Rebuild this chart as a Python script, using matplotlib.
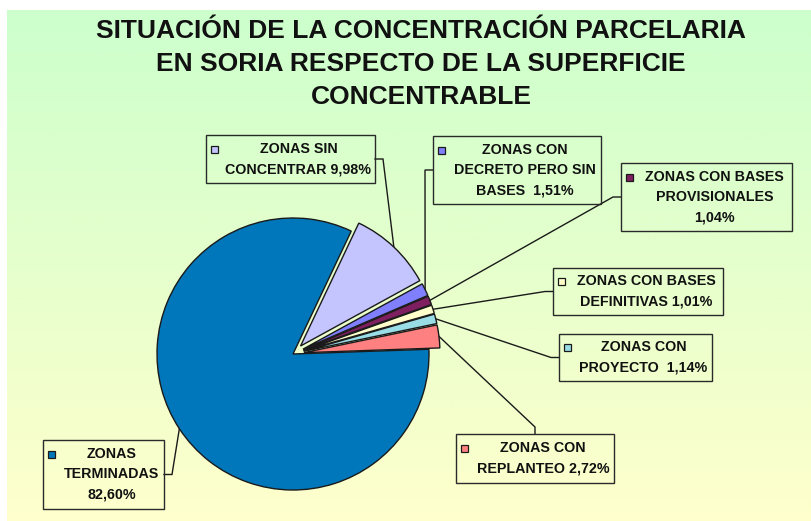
import numpy as np
import matplotlib.pyplot as plt
from matplotlib.patches import Rectangle
from matplotlib.colors import LinearSegmentedColormap

plt.rcParams['font.family'] = ['Liberation Sans', 'DejaVu Sans']

# slices in drawing order (counter-clockwise from the right)
label_templates = [
    'ZONAS CON\nREPLANTEO {}%',
    'ZONAS CON\nPROYECTO  {}%',
    'ZONAS CON BASES\nDEFINITIVAS {}%',
    'ZONAS CON BASES\nPROVISIONALES\n{}%',
    'ZONAS CON\nDECRETO PERO SIN\nBASES  {}%',
    'ZONAS SIN\nCONCENTRAR {}%',
    'ZONAS\nTERMINADAS\n{}%',
]
percentages = [2.72, 1.14, 1.01, 1.04, 1.51, 9.98, 82.60]
colors = ['#FF8080', '#99DDE6', '#FFFFCC', '#7F1F5F', '#8080FF', '#C4C4FF', '#0077BB']
exploded = [True, True, True, True, True, True, False]

title = 'SITUACIÓN DE LA CONCENTRACIÓN PARCELARIA\nEN SORIA RESPECTO DE LA SUPERFICIE\nCONCENTRABLE'

W, H = 812, 521
fig = plt.figure(figsize=(W / 100, H / 100), dpi=100)
ax = fig.add_axes([0, 0, 1, 1])

# background panel with a green-to-yellow gradient
bg = LinearSegmentedColormap.from_list('bg', ['#FFFFCC', '#CCFFCC'])
grad = np.linspace(0, 1, 256).reshape(-1, 1)
ax.imshow(grad, cmap=bg, origin='lower', aspect='auto', extent=(7, W, 0, H - 10), zorder=0)

# pie, laid out in pixel units (y pointing up)
cx, cy, r = 293, H - 354, 136
wedges, _ = ax.pie(percentages, colors=colors, startangle=2, counterclock=True,
                   radius=r, center=(cx, cy),
                   wedgeprops=dict(edgecolor='#1a1a1a', linewidth=1.0))
for w in wedges:
    w.set_zorder(2)

explode_dist = 11
anchors = []
for w, ex in zip(wedges, exploded):
    mid = np.deg2rad(0.5 * (w.theta1 + w.theta2))
    c = np.array([cx, cy], dtype=float)
    if ex:
        c += explode_dist * np.array([np.cos(mid), np.sin(mid)])
        w.set_center(tuple(c))
    anchors.append(c + r * np.array([np.cos(mid), np.sin(mid)]))

ax.set_xlim(0, W)
ax.set_ylim(0, H)
ax.set_aspect('auto')
ax.axis('off')

ax.text(421, H - 19, title, ha='center', va='top', fontsize=19, fontweight='bold',
        color='#111111', linespacing=1.47, multialignment='center')

# label boxes: centre x, centre y (from top), width, height, side of the leader
box_cx = [535, 635.5, 638, 706.5, 517, 290.5, 103.5]
box_cy = [458.5, 357.5, 291.5, 197, 170, 159, 474.5]
box_w = [158, 153, 170, 171, 168, 169, 121]
box_h = [49, 47, 47, 68, 68, 48, 69]
box_side = ['top', 'left', 'left', 'left', 'left', 'right', 'right']

for i, (tpl, pct) in enumerate(zip(label_templates, percentages)):
    bx, by = box_cx[i], H - box_cy[i]
    bw, bh = box_w[i], box_h[i]
    ax.add_patch(Rectangle((bx - bw / 2, by - bh / 2), bw, bh, fill=False,
                           edgecolor='#2a2a2a', linewidth=1.0, zorder=3))
    txt = tpl.format(f'{pct:.2f}'.replace('.', ','))
    ax.text(bx + 8, by, txt, ha='center', va='center', fontsize=10.3, fontweight='bold',
            color='#111111', linespacing=1.55, multialignment='center', zorder=4)
    nlines = txt.count('\n') + 1
    line_step = 20
    top_line_y = by + (nlines - 1) * line_step / 2
    ax.add_patch(Rectangle((bx - bw / 2 + 5, top_line_y - 3.5), 7, 7, facecolor=colors[i],
                           edgecolor='#1a1a1a', linewidth=0.9, zorder=4))

    # leader line: short elbow out of the box, then straight to the slice
    if box_side[i] == 'left':
        p0 = (bx - bw / 2, by)
        p1 = (p0[0] - 8, by)
    elif box_side[i] == 'right':
        p0 = (bx + bw / 2, by)
        p1 = (p0[0] + 8, by)
    else:
        p0 = (bx, by + bh / 2)
        p1 = (bx, p0[1] + 7)
    ax_pt = anchors[i]
    ax.plot([p0[0], p1[0], ax_pt[0]], [p0[1], p1[1], ax_pt[1]], color='#1a1a1a',
            linewidth=1.0, zorder=1.5, solid_joinstyle='miter')

fig.savefig('out.png', dpi=100)
